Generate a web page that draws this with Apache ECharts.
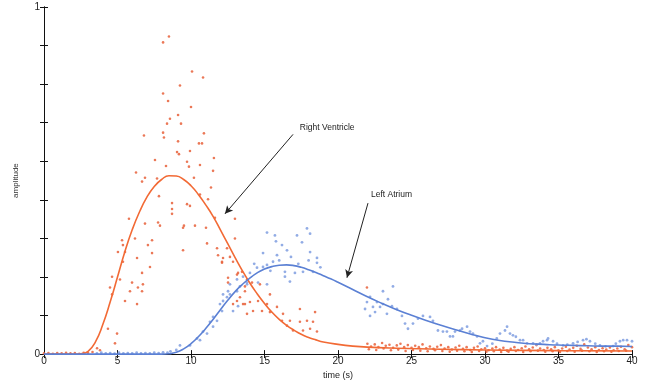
<!DOCTYPE html>
<html><head><meta charset="utf-8">
<script src="https://cdn.jsdelivr.net/npm/echarts@6/dist/echarts.min.js"></script>
<style>html,body{margin:0;padding:0;background:#fff;overflow:hidden}#c{width:646px;height:385px}</style>
</head><body><div id="c"></div>
<script>
// ---------- data ----------
const xTicks = [0, 5, 10, 15, 20, 25, 30, 35, 40];
const yTickLabels = ['0', '1'];

// Right ventricle measured samples [time, amplitude]
const rvPoints = [
 [0,0.002],[0.3,0.003],[0.6,0.001],[0.9,0.003],[1.2,0.002],[1.5,0.004],[1.8,0.002],[2.1,0.003],[2.4,0.001],[2.7,0.004],[3.0,0.003],[3.3,0.006],
 [3.61,0.017],[3.81,0.011],[4.35,0.073],[4.97,0.059],[4.83,0.031],
 [8.5,0.915],[8.1,0.898],[10.07,0.814],[10.82,0.797],[9.25,0.774],[8.1,0.751],[8.44,0.729],[10.0,0.712],[9.12,0.689],
 [8.57,0.678],[9.32,0.664],[8.37,0.664],[8.1,0.638],[10.88,0.636],[6.8,0.630],[8.16,0.624],[9.12,0.613],[10.54,0.607],
 [10.75,0.607],[9.05,0.582],[9.18,0.576],[9.93,0.585],[11.56,0.565],[7.55,0.559],[9.73,0.554],[8.3,0.542],[10.61,0.545],
 [9.86,0.540],[11.5,0.528],[6.26,0.523],[10.2,0.508],[6.87,0.508],[7.69,0.506],[6.67,0.497],[11.36,0.480],
 [7.82,0.455],[8.71,0.435],[9.73,0.432],[9.93,0.427],[10.61,0.460],[11.16,0.446],[6.87,0.376],[5.78,0.390],[7.76,0.379],
 [7.89,0.370],[8.71,0.418],[8.71,0.404],[9.52,0.370],[10.27,0.370],[11.02,0.364],[11.63,0.393],[6.19,0.333],[7.35,0.328],
 [5.31,0.328],[5.37,0.314],[5.03,0.294],[5.51,0.294],[7.07,0.314],[7.35,0.291],[11.09,0.319],[11.77,0.305],[12.45,0.305],
 [9.46,0.299],[5.37,0.266],[6.33,0.277],[7.21,0.251],[11.84,0.285],[12.11,0.266],[12.86,0.266],[12.65,0.280],[4.63,0.223],
 [5.17,0.215],[4.49,0.192],[6.67,0.234],[5.99,0.206],[6.39,0.192],[6.67,0.181],[12.52,0.206],[13.13,0.229],[13.47,0.237],
 [13.67,0.195],[4.63,0.172],[5.51,0.153],[5.85,0.181],[6.33,0.144],[6.73,0.201],[13.54,0.144],[13.81,0.116],[13.13,0.153],
 [9.46,0.364],[12.99,0.390],[12.18,0.277],[12.11,0.263],[12.99,0.333],[12.52,0.220],[13.2,0.234],[13.81,0.215],[14.15,0.206],
 [14.69,0.201],[13.67,0.181],[13.33,0.164],[14.01,0.150],[14.56,0.153],[15.17,0.144],[14.22,0.124],[14.83,0.124],[15.37,0.121],
 [15.85,0.136],[15.37,0.172],[16.26,0.116],[16.19,0.096],[16.73,0.096],[17.41,0.093],[17.89,0.096],[18.3,0.093],[18.1,0.073],
 [18.57,0.065],[17.62,0.068],[16.94,0.068],[16.53,0.082],[18.44,0.121],[17.41,0.130],[12.86,0.144],[13.67,0.144],[21.97,0.192],
 [22.0,0.030],[22.25,0.022],[22.5,0.028],[22.75,0.020],[23.0,0.032],[23.25,0.024],[23.5,0.027],[23.75,0.018],[24.0,0.025],
 [24.25,0.030],[24.5,0.020],[24.75,0.026],[25.0,0.018],[25.25,0.024],[25.5,0.020],[25.75,0.028],[26.0,0.017],[26.25,0.022],
 [26.5,0.015],[26.75,0.021],[27.0,0.026],[27.25,0.016],[27.5,0.020],[27.75,0.013],[28.0,0.019],[28.25,0.024],[28.5,0.015],
 [28.75,0.020],[29.0,0.012],[29.25,0.018],[29.5,0.022],[29.75,0.014],[30.0,0.017],[30.25,0.011],[30.5,0.016],[30.75,0.020],
 [31.0,0.013],[31.25,0.018],[31.5,0.010],[31.75,0.015],[32.0,0.020],[32.25,0.012],[32.5,0.017],[32.75,0.022],[33.0,0.014],
 [33.25,0.019],[33.5,0.026],[33.75,0.016],[34.0,0.012],[34.25,0.018],[34.5,0.014],[34.75,0.020],[35.0,0.011],[35.25,0.016],
 [35.5,0.021],[35.75,0.013],[36.0,0.018],[36.25,0.024],[36.5,0.015],[36.75,0.028],[37.0,0.019],[37.25,0.014],[37.5,0.020],
 [37.75,0.012],[38.0,0.017],[38.25,0.013],[38.5,0.019],[38.75,0.011],[39.0,0.016],[39.25,0.021],[39.5,0.014],[39.75,0.026],[40.0,0.020],
 [22.1,0.014],[22.6,0.012],[23.1,0.016],[23.6,0.011],[24.1,0.013],[24.6,0.009],[25.1,0.012],[25.6,0.010],[26.1,0.008],
 [26.6,0.011],[27.1,0.009],[27.6,0.007],[28.1,0.010],[28.6,0.008],[29.1,0.006],[29.6,0.009],[30.1,0.007],[30.6,0.008],
 [31.1,0.006],[31.6,0.007],[32.1,0.009],[32.6,0.006],[33.1,0.008],[33.6,0.010],[34.1,0.007],[34.6,0.008],[35.1,0.006],
 [35.6,0.009],[36.1,0.007],[36.6,0.010],[37.1,0.008],[37.6,0.006],[38.1,0.008],[38.6,0.007],[39.1,0.009],[39.6,0.010]
];

// Left atrium measured samples [time, amplitude]
const laPoints = [
 [3.6,0.002],[3.9,0.004],[4.2,0.002],[4.5,0.003],[4.8,0.001],[5.1,0.004],[5.4,0.002],[5.7,0.003],[6.0,0.002],[6.3,0.004],
 [6.6,0.002],[6.9,0.003],[7.2,0.002],[7.5,0.004],[7.8,0.003],[8.1,0.005],[8.4,0.004],[8.6,0.008],[9.0,0.012],
 [9.93,0.025],[10.61,0.040],[11.09,0.059],[11.5,0.079],[11.77,0.096],[12.11,0.124],[12.18,0.153],[12.45,0.164],[12.65,0.172],
 [13.13,0.181],[13.33,0.195],[13.81,0.206],[12.86,0.124],[13.2,0.138],
 [9.25,0.025],[10.41,0.045],[10.82,0.065],[11.29,0.093],[11.5,0.107],[11.97,0.144],[12.18,0.172],[12.52,0.181],[12.65,0.201],
 [13.13,0.215],[13.54,0.223],[14.01,0.234],[14.49,0.249],[14.9,0.251],[15.17,0.257],[15.58,0.266],[14.9,0.291],[15.85,0.285],
 [16.19,0.314],[15.71,0.342],[16.53,0.299],[17.21,0.342],[17.89,0.362],[17.55,0.322],[18.1,0.294],[18.57,0.277],[16.39,0.237],
 [17.07,0.234],[17.62,0.237],[18.3,0.237],[18.57,0.263],[16.39,0.223],[16.73,0.209],[15.17,0.201],[14.56,0.206],[13.81,0.201],
 [15.17,0.350],[15.78,0.325],[18.1,0.347],[16.0,0.270],[16.8,0.280],[17.3,0.260],[18.0,0.270],[18.8,0.250],[14.3,0.260],[15.4,0.240],
 [21.97,0.150],[21.84,0.130],[22.18,0.110],[22.52,0.121],[22.86,0.136],[23.06,0.144],[23.4,0.158],[23.67,0.138],[23.33,0.116],
 [24.01,0.130],[24.35,0.110],[24.56,0.088],[24.76,0.073],[25.1,0.088],[25.44,0.102],[25.78,0.110],[26.26,0.107],[26.46,0.096],
 [26.8,0.068],[27.14,0.065],[27.62,0.051],[27.96,0.065],[28.44,0.073],[28.78,0.079],[28.98,0.065],[29.46,0.051],[29.86,0.037],
 [30.14,0.023],[22.38,0.136],[23.06,0.181],[23.74,0.195],[22.18,0.165],[22.65,0.150],
 [27.41,0.065],[27.82,0.051],[28.3,0.068],[29.18,0.059],[29.66,0.031],[31.02,0.059],[31.36,0.068],[31.5,0.079],[31.7,0.059],
 [31.9,0.054],[32.38,0.040],[32.59,0.040],[32.86,0.031],[33.27,0.031],[33.74,0.031],[33.95,0.037],[34.22,0.040],[34.29,0.045],
 [34.63,0.037],[35.31,0.025],[35.99,0.031],[36.67,0.040],[37.14,0.037],[37.82,0.025],[38.71,0.023],[39.18,0.037],[39.66,0.040],
 [40.0,0.037],[30.5,0.030],[30.8,0.045],[32.1,0.050],[33.5,0.028],[34.9,0.030],[35.6,0.027],[36.3,0.035],[36.9,0.043],
 [37.5,0.030],[38.2,0.022],[38.9,0.030],[39.4,0.040]
];

// Fitted curves [time, amplitude]
const rvFit = [
 [0,0],[2,0],[2.5,0.001],[3,0.008],[3.5,0.035],[4,0.085],[4.5,0.15],[5,0.222],[5.5,0.295],[6,0.358],[6.5,0.41],[7,0.452],
 [7.5,0.483],[8,0.503],[8.5,0.514],[9,0.513],[9.5,0.503],[10,0.485],[10.5,0.46],[11,0.43],[11.5,0.397],[12,0.358],[12.5,0.318],
 [13,0.278],[13.5,0.24],[14,0.205],[14.5,0.174],[15,0.146],[15.5,0.121],[16,0.1],[16.5,0.083],[17,0.069],[17.5,0.057],
 [18,0.048],[18.5,0.041],[19,0.035],[20,0.028],[21,0.023],[22,0.02],[24,0.017],[27,0.014],[30,0.012],[35,0.01],[40,0.009]
];
const laFit = [
 [0,0],[8,0],[8.5,0.001],[9,0.005],[9.5,0.015],[10,0.03],[10.5,0.05],[11,0.074],[11.5,0.10],[12,0.128],[12.5,0.155],[13,0.18],
 [13.5,0.201],[14,0.219],[14.5,0.234],[15,0.245],[15.5,0.252],[16,0.256],[16.5,0.257],[17,0.255],[17.5,0.25],[18,0.243],
 [18.5,0.235],[19,0.226],[19.5,0.217],[20,0.207],[21,0.186],[22,0.165],[23,0.146],[24,0.128],[25,0.112],[26,0.097],
 [27,0.083],[28,0.07],[29,0.058],[30,0.047],[31,0.039],[32,0.034],[33,0.03],[34,0.028],[35,0.026],[36,0.025],
 [37,0.024],[38,0.023],[39,0.023],[40,0.022]
];

// Annotations: label anchor, arrow from -> to, in data coordinates
const annRV = {text: 'Right Ventricle', at: [17.4, 0.652], from: [16.94, 0.633], to: [12.31, 0.404]};
const annLA = {text: 'Left Atrium', at: [22.24, 0.46], from: [22.04, 0.435], to: [20.61, 0.220]};

// ---------- chart ----------
const ORANGE = '#f26a35', ORANGE_DOT = '#e8603a', BLUE = '#5b80d4', BLUE_DOT = '#86a3e2';
const FONT = 'Liberation Sans, Arial, sans-serif';
const chart = echarts.init(document.getElementById('c'), null, {renderer: 'canvas', width: 646, height: 385});
const axisLine = {show: true, lineStyle: {color: '#111', width: 1}};
const tick = {show: true, inside: true, length: 4, lineStyle: {color: '#111'}};
const yStep = 1 / 9;
chart.setOption({
  animation: false,
  backgroundColor: '#fff',
  grid: {left: 44, right: 14, top: 7, bottom: 24, containLabel: false},
  xAxis: [
    {type: 'value', min: 0, max: 40, interval: 5, position: 'bottom',
     axisLine, axisTick: tick, splitLine: {show: false},
     axisLabel: {color: '#222', fontSize: 10, fontFamily: FONT, margin: 2,
       formatter: v => xTicks.includes(v) ? String(v) : ''},
     name: 'time (s)', nameLocation: 'middle', nameGap: 13,
     nameTextStyle: {color: '#222', fontSize: 9, fontFamily: FONT}},
    {type: 'value', min: 0, max: 40, interval: 5, position: 'top',
     axisLine, axisTick: tick, axisLabel: {show: false}, splitLine: {show: false}}
  ],
  yAxis: [
    {type: 'value', min: 0, max: 1, interval: yStep, position: 'left',
     axisLine, axisTick: tick, splitLine: {show: false},
     axisLabel: {color: '#222', fontSize: 10, fontFamily: FONT, margin: 4,
       formatter: v => v < 1e-6 ? yTickLabels[0] : (v > 0.999 ? yTickLabels[1] : '')},
     name: 'amplitude', nameLocation: 'middle', nameGap: 24, nameRotate: 90,
     nameTextStyle: {color: '#333', fontSize: 8, fontFamily: FONT}},
    {type: 'value', min: 0, max: 1, interval: yStep, position: 'right',
     axisLine, axisTick: tick, axisLabel: {show: false}, splitLine: {show: false}}
  ],
  series: [
    {type: 'scatter', data: rvPoints, symbol: 'circle', symbolSize: 2.6,
     itemStyle: {color: ORANGE_DOT, opacity: 0.85}, z: 2},
    {type: 'scatter', data: laPoints, symbol: 'circle', symbolSize: 2.8,
     itemStyle: {color: BLUE_DOT, opacity: 0.9}, z: 2},
    {type: 'line', data: rvFit, smooth: true, showSymbol: false,
     lineStyle: {color: ORANGE, width: 1.6}, z: 3},
    {type: 'line', data: laFit, smooth: true, showSymbol: false,
     lineStyle: {color: BLUE, width: 1.6}, z: 3,
     markLine: {silent: true, symbol: ['none', 'arrow'], symbolSize: [6, 8],
       lineStyle: {color: '#222', width: 1, type: 'solid'}, label: {show: false},
       data: [
         [{coord: annRV.from}, {coord: annRV.to}],
         [{coord: annLA.from}, {coord: annLA.to}]
       ]},
     markPoint: {silent: true, symbol: 'circle', symbolSize: 0,
       label: {show: true, position: 'right', distance: 0, color: '#222', fontSize: 8.5, fontFamily: FONT},
       data: [
         {coord: annRV.at, value: annRV.text, label: {formatter: annRV.text}},
         {coord: annLA.at, value: annLA.text, label: {formatter: annLA.text}}
       ]}}
  ]
});
</script></body></html>
